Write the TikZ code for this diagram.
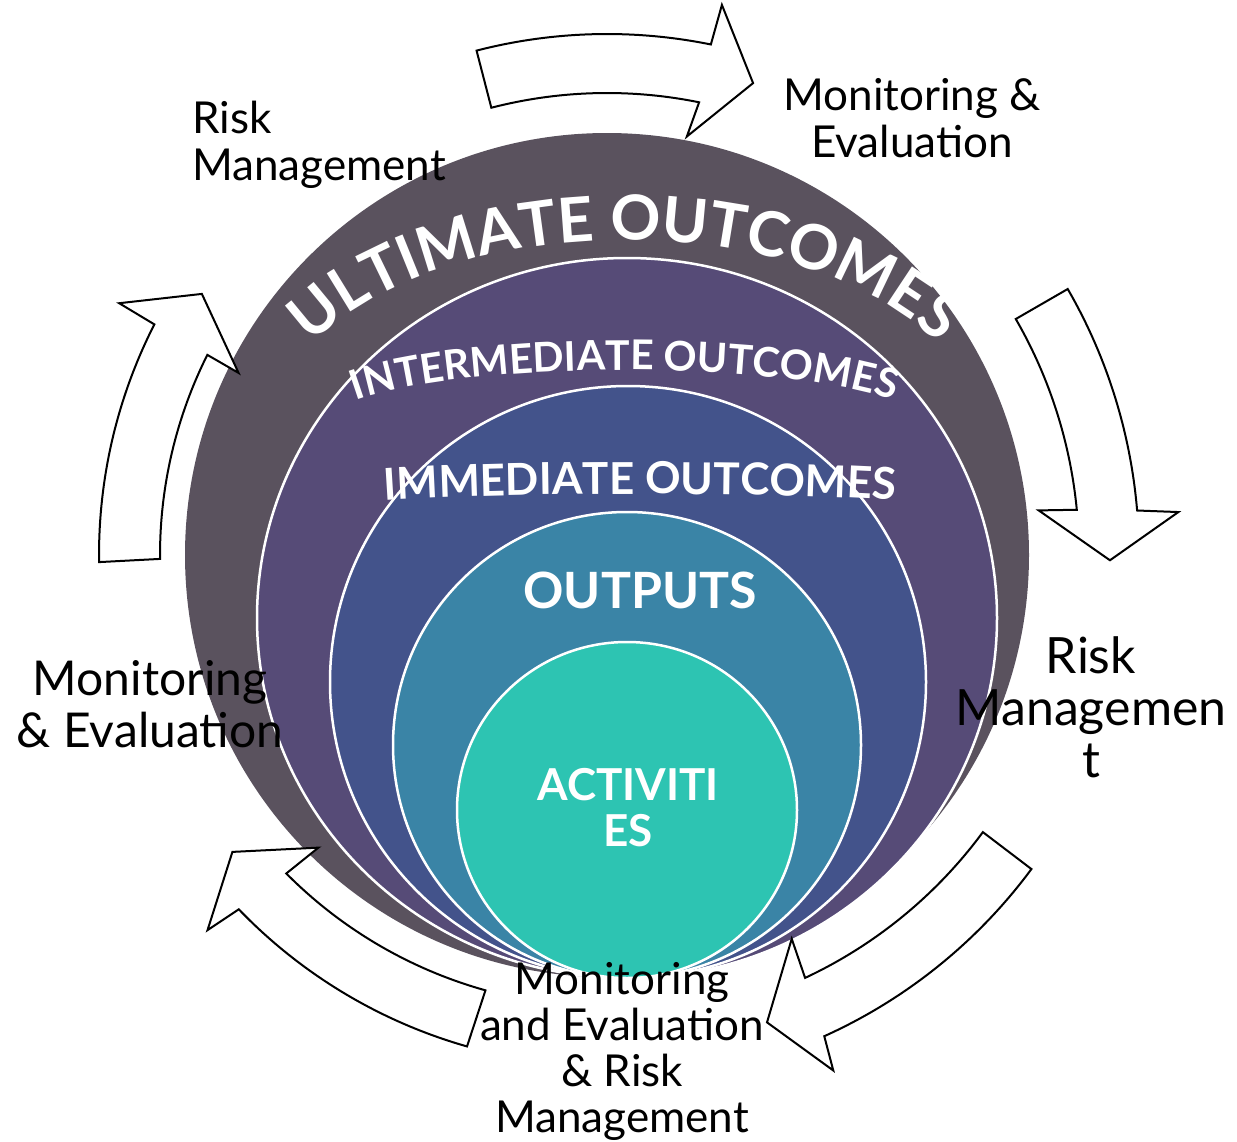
\documentclass[tikz,border=0pt]{standalone}
\usepackage{fontspec}
\setmainfont{Lato}
\usetikzlibrary{decorations.text}

\definecolor{ultimate}{HTML}{5A525E}
\definecolor{intermediate}{HTML}{564B77}
\definecolor{immediate}{HTML}{43538B}
\definecolor{outputs}{HTML}{3A84A6}
\definecolor{activities}{HTML}{2DC4B2}

\tikzset{
  ring/.style={draw=white, line width=2.5},
  cyclearrow/.style={draw=black, fill=white, line width=2, line join=miter},
  cyclelabel/.style={align=center, inner sep=0, font=\fontsize{44}{47}\selectfont},
  ringlabel/.style={align=center, inner sep=0, text=white, font=\bfseries\fontsize{50}{46}\selectfont},
}

\begin{document}
\begin{tikzpicture}[x=1pt, y=1pt]
\useasboundingbox (0,0) rectangle (1237,-1141);
\coordinate (hub) at (607,-555);

% rings, all meeting at the bottom
\fill[ultimate] (hub) circle[radius=422];
\filldraw[ring, fill=intermediate] (627,-618) ellipse[x radius=370, y radius=360];
\filldraw[ring, fill=immediate] (628,-682) ellipse[x radius=298, y radius=296];
\filldraw[ring, fill=outputs] (627,-745) ellipse[x radius=234, y radius=233];
\filldraw[ring, fill=activities] (627,-810) ellipse[x radius=170, y radius=168];

% curved ring titles
\coordinate (ultarc) at (625,-445);
\path[decorate, decoration={text along path, text color=white, text align=center,
    text={|\bfseries\fontsize{62}{62}\selectfont|ULTIMATE OUTCOMES}}]
  ([shift={(ultarc)}]175:360 and 205) arc[start angle=175, end angle=5, x radius=360, y radius=205];
\coordinate (intarc) at (625,-425);
\path[decorate, decoration={text along path, text color=white, text align=center,
    text={|\bfseries\fontsize{41}{41}\selectfont|INTERMEDIATE OUTCOMES}}]
  ([shift={(intarc)}]180:300 and 55) arc[start angle=180, end angle=0, x radius=300, y radius=55];
\coordinate (immarc) at (640,-510);
\path[decorate, decoration={text along path, text color=white, text align=center,
    text={|\bfseries\fontsize{44}{44}\selectfont|IMMEDIATE OUTCOMES}}]
  ([shift={(immarc)}]180:320 and 16) arc[start angle=180, end angle=0, x radius=320, y radius=16];

\node[ringlabel] (outputs) at (640,-590) {OUTPUTS};
\node[ringlabel, font=\bfseries\fontsize{44}{46}\selectfont] (activities) at (628,-808) {ACTIVITI\\ES};

% cycle arrows round the rings
\draw[cyclearrow] ([shift={(hub)}]104.5:521) arc[start angle=104.5, end angle=78.5, radius=521]
  -- ([shift={(hub)}]78.2:562) -- ([shift={(hub)}]72.8:494) -- ([shift={(hub)}]79.2:426)
  -- ([shift={(hub)}]78.5:462) arc[start angle=78.5, end angle=104.5, radius=462] -- cycle;
\draw[cyclearrow] ([shift={(hub)}]30:532) arc[start angle=30, end angle=4.8, radius=532]
  -- ([shift={(hub)}]4.3:573) -- ([shift={(hub)}]-0.6:503) -- ([shift={(hub)}]5.9:434)
  -- ([shift={(hub)}]5.5:472) arc[start angle=5.5, end angle=30, radius=472] -- cycle;
\draw[cyclearrow] ([shift={(hub)}]-36.5:528) arc[start angle=-36.5, end angle=-65.7, radius=528]
  -- ([shift={(hub)}]-66.3:563) -- ([shift={(hub)}]-71.1:494) -- ([shift={(hub)}]-64.3:426)
  -- ([shift={(hub)}]-64.9:467) arc[start angle=-64.9, end angle=-36.4, radius=467] -- cycle;
\draw[cyclearrow] ([shift={(hub)}]254.1:511) arc[start angle=254.1, end angle=223.9, radius=511]
  -- ([shift={(hub)}]223.2:548) -- ([shift={(hub)}]218.4:478) -- ([shift={(hub)}]225.4:411)
  -- ([shift={(hub)}]224.8:452) arc[start angle=224.8, end angle=254.4, radius=452] -- cycle;
\draw[cyclearrow] ([shift={(hub)}]180.8:508) arc[start angle=180.8, end angle=153, radius=508]
  -- ([shift={(hub)}]152.7:549) -- ([shift={(hub)}]147.2:482) -- ([shift={(hub)}]153.7:411)
  -- ([shift={(hub)}]153.4:447) arc[start angle=153.4, end angle=180.5, radius=447] -- cycle;

% labels
\node[cyclelabel, align=left, anchor=north west] (riskTop) at (192,-101) {Risk\\Management};
\node[cyclelabel, anchor=north] (evalTop) at (912,-78) {Monitoring \&\\Evaluation};
\node[cyclelabel, font=\fontsize{50}{52}\selectfont, anchor=north] (riskRight) at (1091,-636) {Risk\\Managemen\\t};
\node[cyclelabel, font=\fontsize{48}{52}\selectfont, anchor=north] (evalLeft) at (150,-660) {Monitoring\\\& Evaluation};
\node[cyclelabel, font=\fontsize{44}{46}\selectfont, anchor=north] (evalBottom) at (622,-962) {Monitoring\\and Evaluation\\\& Risk\\Management};
\end{tikzpicture}
\end{document}
